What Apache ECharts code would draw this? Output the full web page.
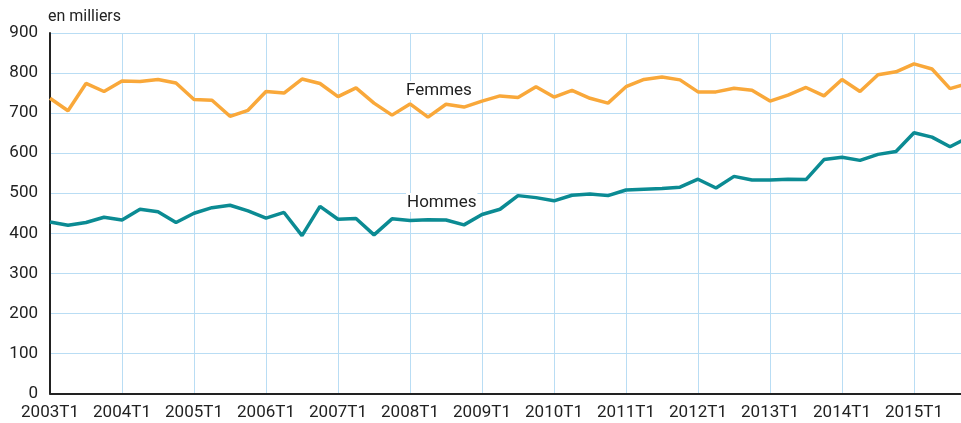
<!DOCTYPE html>
<html>
<head>
<meta charset="utf-8">
<script src="https://cdn.jsdelivr.net/npm/echarts@6/dist/echarts.min.js"></script>
<style>html,body{margin:0;padding:0;background:#fff;overflow:hidden}#c{width:968px;height:423px}</style>
</head>
<body>
<div id="c"></div>
<script>
const years = [2003,2004,2005,2006,2007,2008,2009,2010,2011,2012,2013,2014,2015];
const categories = [];
years.forEach(y => { for (let q = 1; q <= 4; q++) categories.push(y + 'T' + q); });
const femmes = [737,706,774,754,780,779,784,775,734,732,692,707,754,750,785,774,
  741,763,725,695,723,690,722,715,730,743,739,766,740,757,737,725,
  766,784,790,783,753,753,762,757,730,745,764,743,784,754,796,803,
  823,810,761,774];
const hommes = [428,420,427,440,433,460,454,427,450,464,470,456,438,452,394,467,
  435,437,396,436,432,434,433,421,447,460,494,489,481,495,498,494,
  508,510,512,515,535,513,542,533,533,535,534,584,590,582,597,604,
  651,640,616,639];
const unitLabel = 'en milliers';
const seriesNames = ['Femmes', 'Hommes'];

const font = '"Liberation Sans Narrow", "Roboto", sans-serif';
const chart = echarts.init(document.getElementById('c'));
chart.setOption({
  animation: false,
  grid: { left: 50, top: 33, right: 0, bottom: 29.5, containLabel: false },
  xAxis: {
    type: 'category',
    data: categories,
    boundaryGap: false,
    axisLine: { lineStyle: { color: '#222', width: 2 } },
    axisTick: { show: false },
    axisLabel: { interval: 3, color: '#222', fontFamily: font, fontSize: 17, margin: 11 },
    splitLine: { show: true, interval: 3, lineStyle: { color: '#b9ddf4', width: 1 } }
  },
  yAxis: {
    type: 'value',
    min: 0, max: 900, interval: 100,
    axisLine: { show: true, lineStyle: { color: '#222', width: 2 } },
    axisTick: { show: false },
    axisLabel: { color: '#222', fontFamily: font, fontSize: 17, margin: 12 },
    splitLine: { lineStyle: { color: '#b9ddf4', width: 1 } }
  },
  series: [
    { name: seriesNames[0], type: 'line', data: femmes, symbol: 'none',
      lineStyle: { color: '#f9a83a', width: 3.5 }, z: 3 },
    { name: seriesNames[1], type: 'line', data: hommes, symbol: 'none',
      lineStyle: { color: '#0b8b93', width: 3.5 }, z: 3 }
  ],
  graphic: [
    { type: 'text', left: 48, top: 9, style: { text: unitLabel, fill: '#222', font: '16px ' + font } },
    { type: 'text', left: 405, top: 81, z: 10, style: { text: seriesNames[0], fill: '#222', font: '17px ' + font, backgroundColor: '#fff', padding: [1, 1] } },
    { type: 'text', left: 406, top: 193, z: 10, style: { text: seriesNames[1], fill: '#222', font: '17px ' + font, backgroundColor: '#fff', padding: [1, 1] } }
  ]
});
</script>
</body>
</html>
